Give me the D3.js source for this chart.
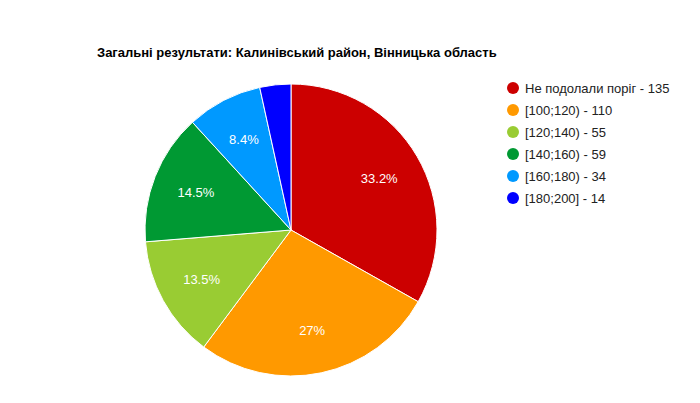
<!DOCTYPE html>
<html><head><meta charset="utf-8">
<script src="https://cdn.jsdelivr.net/npm/d3@7"></script>
<style>body{margin:0;background:#fff}</style>
</head><body>
<div id="chart"></div>
<script>
var categories = ["Не подолали поріг", "[100;120)", "[120;140)", "[140;160)", "[160;180)", "[180;200]"]
var values = [135, 110, 55, 59, 34, 14]
var colors = ["#cc0000", "#ff9900", "#99cc33", "#009933", "#0099ff", "#0000ff"]

var width = 700, height = 403
var cx = 291, cy = 230, r = 146

var svg = d3.select("#chart").append("svg")
    .attr("width", width).attr("height", height)
    .style("font-family", "Arial, 'Liberation Sans', sans-serif")

svg.append("text")
    .attr("x", 97).attr("y", 57)
    .attr("font-size", 13).attr("font-weight", "bold")
    .text("Загальні результати: Калинівський район, Вінницька область")

var total = d3.sum(values)
var pie = d3.pie().sort(null)(values)
var arc = d3.arc().innerRadius(0).outerRadius(r)
var labelArc = d3.arc().innerRadius(r * 0.7).outerRadius(r * 0.7)

var g = svg.append("g").attr("transform", `translate(${cx},${cy})`)
g.selectAll("path").data(pie).enter().append("path")
    .attr("d", arc)
    .attr("fill", (d, i) => colors[i])
    .attr("stroke", "#fff").attr("stroke-width", 1)

g.selectAll("text").data(pie).enter()
    .filter(d => d.data / total > 0.05)
    .append("text")
    .attr("transform", d => `translate(${labelArc.centroid(d)})`)
    .attr("text-anchor", "middle").attr("dy", "0.35em")
    .attr("font-size", 13).attr("fill", "#fff")
    .text(d => {
        var p = Math.round(d.data / total * 1000) / 10
        return p + "%"
    })

var legend = svg.append("g")
categories.forEach(function(c, i) {
    var y = 88 + i * 22
    legend.append("circle").attr("cx", 513).attr("cy", y).attr("r", 6).attr("fill", colors[i])
    legend.append("text").attr("x", 525).attr("y", y).attr("dy", "0.35em")
        .attr("font-size", 13).attr("fill", "#222")
        .text(c + " - " + values[i])
})
</script>
</body></html>
